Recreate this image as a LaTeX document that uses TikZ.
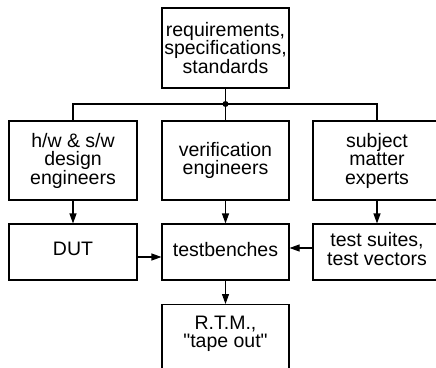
\documentclass[tikz,border=0pt]{standalone}
\usepackage{fontspec}
\setmainfont{Liberation Sans}
\usetikzlibrary{arrows.meta}
% straight double quote, set as a glyph so no TeX mapping curls it
\newcommand\dq{\XeTeXglyph\XeTeXglyphindex "quotedbl"\relax}
\begin{document}
\begin{tikzpicture}[x=1pt,y=-1pt,
  every node/.style={font=\fontsize{19.5}{18.5}\selectfont},
  blk/.style={draw, line width=1.1pt, inner sep=0pt, align=center,
    minimum width=127pt},
  tall/.style={blk, minimum height=79pt},
  short/.style={blk, minimum height=56pt},
  wire/.style={line width=1.1pt},
  arr/.style={wire, -{Triangle[length=10pt,width=7pt]}}]
\useasboundingbox (0,0) rectangle (436,367);

% source documents
\node[tall, minimum height=80pt] (req) at (225.5,48) {requirements,\\specifications,\\standards};

% people
\node[tall, minimum width=128pt] (hw)  at (73,160.5)  {h/w \& s/w\\design\\engineers};
\node[tall]                      (ver) at (225.5,160.5) {verification\\engineers};
\node[tall, minimum width=128pt] (sme) at (377,160.5) {subject\\matter\\experts};

% artefacts
\node[short, minimum width=128pt, text depth=6pt] (dut) at (73,252)    {DUT};
\node[short, text depth=6pt]                      (tb)  at (225.5,252) {testbenches};
\node[short, minimum width=128pt, text depth=6pt] (ts)  at (377,252)   {test suites,\\test vectors};

% result
\node[blk, anchor=north, minimum height=80pt, text depth=26pt] (rtm) at (225.5,304) {R.T.M.,\\\dq tape out\dq};

% distribution bus
\coordinate (j) at (225.5,104);
\draw[wire] (req.south) -- (j);
\draw[wire] (hw.north) |- (j) -| (sme.north);
\draw[wire] (j) -- (ver.north);
\fill (j) circle (3pt);

% flow arrows
\draw[arr] (hw.south) -- (dut.north);
\draw[arr] (ver.south) -- (tb.north);
\draw[arr] (sme.south) -- (ts.north);
\draw[arr] ([yshift=-5pt]dut.east) -- ([yshift=-5pt]tb.west);
\draw[arr] ([yshift=4pt]ts.west) -- ([yshift=4pt]tb.east);
\draw[arr] (tb.south) -- (rtm.north);
\end{tikzpicture}
\end{document}
